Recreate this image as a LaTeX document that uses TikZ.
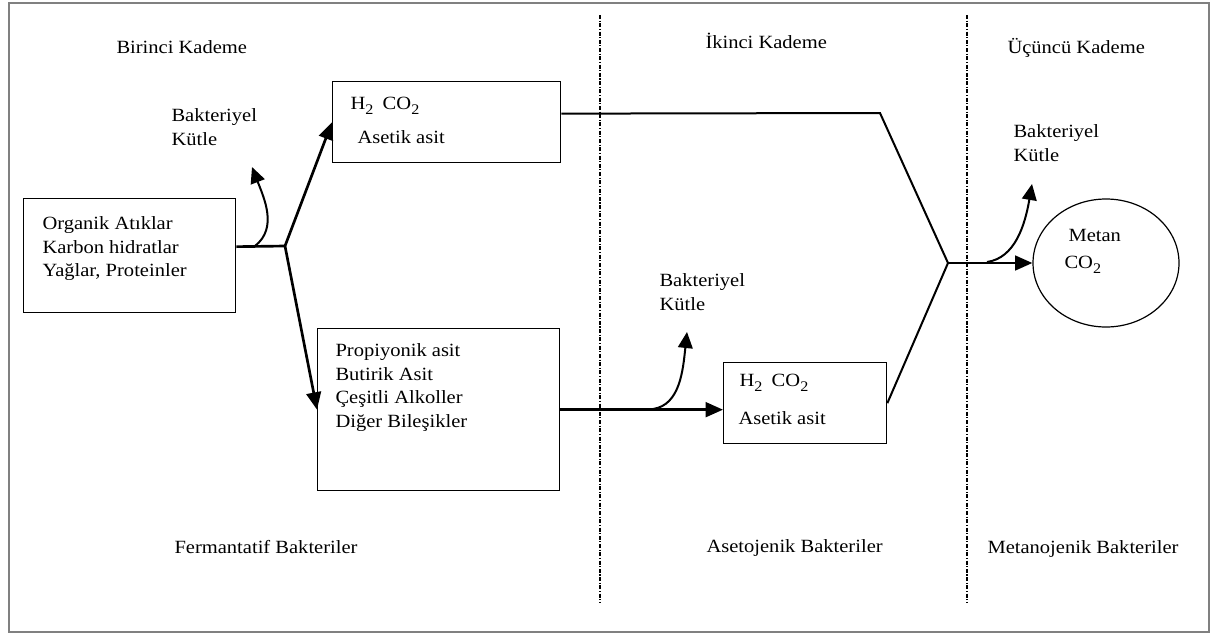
\documentclass[tikz,border=0pt]{standalone}
\usepackage{fontspec}
\setmainfont{Liberation Serif}[FakeStretch=1.1]
\usepackage{tikz}
\tikzset{every picture/.style={line width=0.75pt}}
\usetikzlibrary{arrows.meta}
\usetikzlibrary{shapes.geometric}
\newcommand{\lblfont}{\fontsize{14}{17.8}\selectfont}
\newcommand{\lowix}[1]{\raisebox{-0.5ex}{\fontsize{11}{11}\selectfont #1}}

\begin{document}
\begin{tikzpicture}[x=0.75pt,y=0.75pt,yscale=-1,
  box/.style={draw, line width=1pt, inner sep=0pt, anchor=north west},
  txt/.style={anchor=north west, inner sep=0pt, align=left, font=\lblfont},
  head/.style={anchor=base west, inner sep=0pt, font=\lblfont},
  flow/.style={line width=2pt, -{Triangle[length=13pt,width=11pt]}},
  mass/.style={line width=1.5pt, -{Triangle[length=12pt,width=11pt]}},
  zone/.style={line width=0.9pt, dash pattern=on 3pt off 1.2pt on 0.8pt off 1.2pt}]
\useasboundingbox (0,0) rectangle (1213,636);

%Frame
\draw [color=gray, line width=1.6pt] (9,3) rectangle (1209,632);
%Stage borders
\draw [zone] (600,15) -- (600,603);
\draw [zone] (967,15) -- (967,603);

% Text Node
\node [head] (k1) at (116,53) {Birinci Kademe};
\node [head] (k2) at (705,48) {İkinci Kademe};
\node [head] (k3) at (1007,53) {Üçüncü Kademe};
\node [head] (b1) at (174,553) {Fermantatif Bakteriler};
\node [head] (b2) at (706,552) {Asetojenik Bakteriler};
\node [head] (b3) at (987,553) {Metanojenik Bakteriler};

%Boxes
\node [box, minimum width=159pt, minimum height=85.5pt] (org) at (23,198) {};
\node [box, minimum width=171pt, minimum height=60.75pt] (h2top) at (332,81) {};
\node [box, minimum width=181.5pt, minimum height=121.5pt] (prop) at (317,328) {};
\node [box, minimum width=122.25pt, minimum height=60.75pt] (h2bot) at (723,362) {};
\node [draw, ellipse, line width=0.9pt, minimum width=109.5pt, minimum height=96pt, inner sep=0pt] (metan) at (1106,263) {};

% Text Node
\node [txt] (orgtxt) at (42,216) {Organik Atıklar\\Karbon hidratlar\\Yağlar, Proteinler};
\node [txt] (h2a) at (350,97) {H\lowix{2}\enspace CO\lowix{2}};
\node [txt] (ac1) at (357,130) {Asetik asit};
\node [txt] (proptxt) at (335,343) {Propiyonik asit\\Butirik Asit\\Çeşitli Alkoller\\Diğer Bileşikler};
\node [txt] (h2b) at (739,374) {H\lowix{2}\enspace CO\lowix{2}};
\node [txt] (ac2) at (738,411) {Asetik asit};
\node [txt] (m1) at (171,108) {Bakteriyel\\Kütle};
\node [txt] (m2) at (659,273) {Bakteriyel\\Kütle};
\node [txt] (m3) at (1013,124) {Bakteriyel\\Kütle};
\node [txt] (ch4) at (1068,229) {Metan};
\node [txt] (co2) at (1064,256) {CO\lowix{2}};

%Flow lines
\coordinate (j1) at (285,246);
\coordinate (bend) at (880,113);
\coordinate (j2) at (948,263);
\draw [line width=2pt] ([yshift=-6.75pt]org.east) -- (j1);
\draw [flow] (j1) -- (h2top.west);
\draw [flow] (j1) -- (prop.west);
\draw [line width=1.5pt] ([yshift=-6.4pt]h2top.east) -- (bend) -- (j2) -- (h2bot.east);
\draw [flow] (j2) -- (metan.west);
\draw [flow] (prop.east) -- (prop.east -| h2bot.west);

%Bacterial mass
\coordinate (s1) at (255,246);
\coordinate (t1) at (252,167);
\coordinate (s2) at (653,409);
\coordinate (t2) at (687,332);
\coordinate (s3) at (987,262);
\coordinate (t3) at (1032,184);
\draw [mass] (s1) .. controls (278,228) and (264,198) .. (t1);
\draw [mass] (s2) .. controls (680,405) and (683,370) .. (t2);
\draw [mass] (s3) .. controls (1015,258) and (1025,225) .. (t3);
\end{tikzpicture}
\end{document}
